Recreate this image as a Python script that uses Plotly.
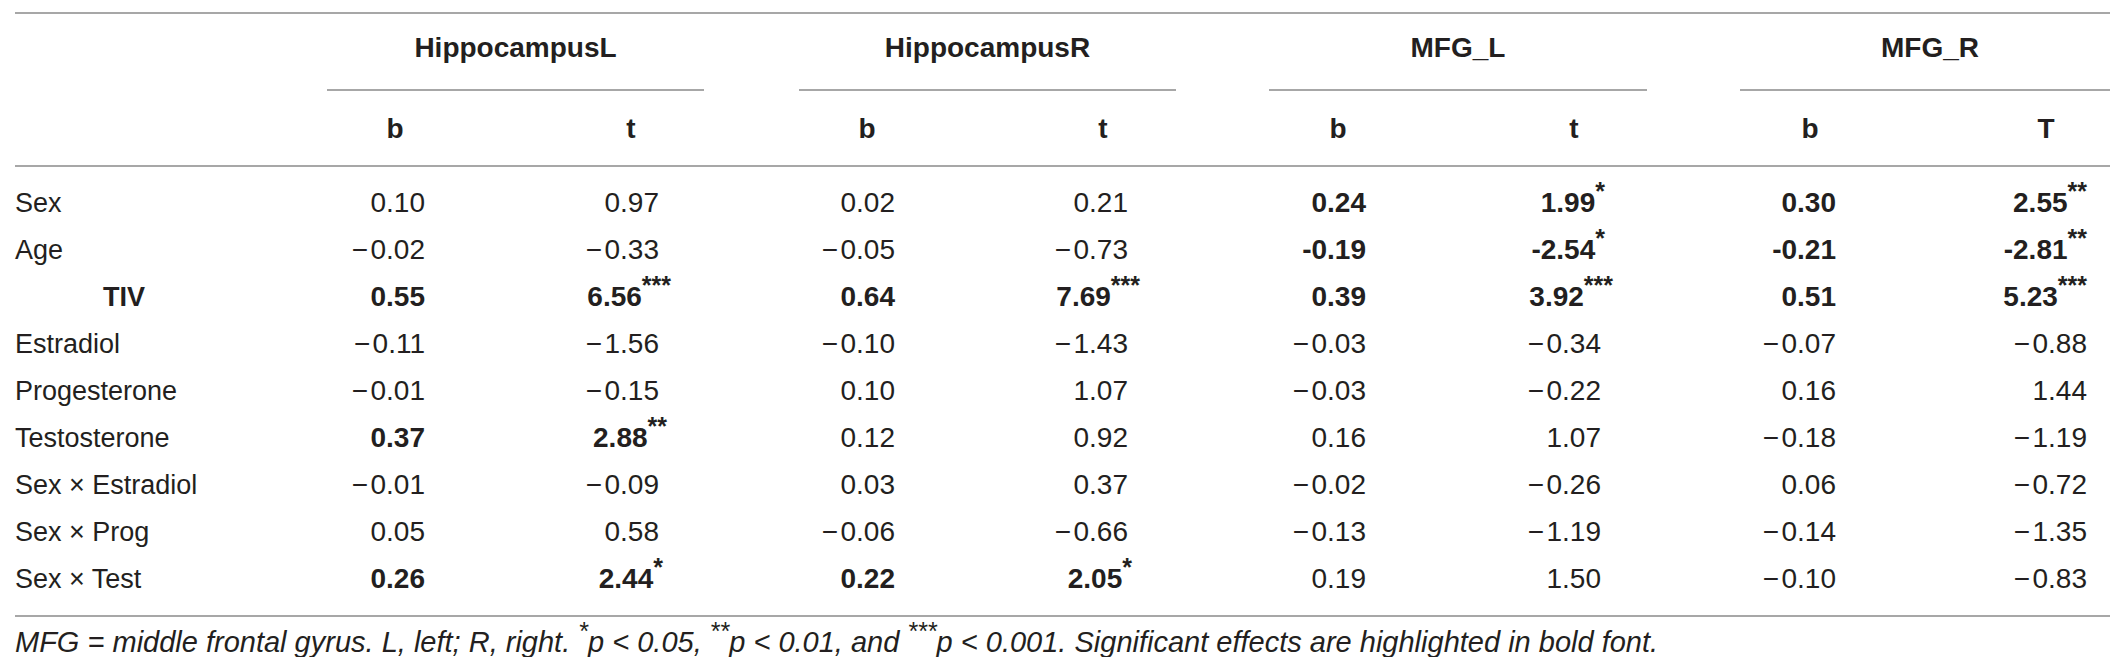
import plotly.graph_objects as go

# table content
row_labels = ["Sex", "Age", "TIV", "Estradiol", "Progesterone", "Testosterone",
              "Sex × Estradiol", "Sex × Prog", "Sex × Test"]
regions = ["HippocampusL", "HippocampusR", "MFG_L", "MFG_R"]
stat_labels = ["b", "t", "b", "t", "b", "t", "b", "T"]

hipl_b = [0.10, -0.02, 0.55, -0.11, -0.01, 0.37, -0.01, 0.05, 0.26]
hipl_t = [0.97, -0.33, 6.56, -1.56, -0.15, 2.88, -0.09, 0.58, 2.44]
hipl_stars = [0, 0, 3, 0, 0, 2, 0, 0, 1]
hipl_bold = [0, 0, 1, 0, 0, 1, 0, 0, 1]

hipr_b = [0.02, -0.05, 0.64, -0.10, 0.10, 0.12, 0.03, -0.06, 0.22]
hipr_t = [0.21, -0.73, 7.69, -1.43, 1.07, 0.92, 0.37, -0.66, 2.05]
hipr_stars = [0, 0, 3, 0, 0, 0, 0, 0, 1]
hipr_bold = [0, 0, 1, 0, 0, 0, 0, 0, 1]

mfgl_b = [0.24, -0.19, 0.39, -0.03, -0.03, 0.16, -0.02, -0.13, 0.19]
mfgl_t = [1.99, -2.54, 3.92, -0.34, -0.22, 1.07, -0.26, -1.19, 1.50]
mfgl_stars = [1, 1, 3, 0, 0, 0, 0, 0, 0]
mfgl_bold = [1, 1, 1, 0, 0, 0, 0, 0, 0]

mfgr_b = [0.30, -0.21, 0.51, -0.07, 0.16, -0.18, 0.06, -0.14, -0.10]
mfgr_t = [2.55, -2.81, 5.23, -0.88, 1.44, -1.19, -0.72, -1.35, -0.83]
mfgr_stars = [2, 2, 3, 0, 0, 0, 0, 0, 0]
mfgr_bold = [1, 1, 1, 0, 0, 0, 0, 0, 0]

STAR = "<sup><span style='font-size:25px'>{}</span></sup>"
footnote = ("<i>MFG = middle frontal gyrus. L, left; R, right. " + STAR.format("*") +
            "p &lt; 0.05, " + STAR.format("**") + "p &lt; 0.01, and " +
            STAR.format("***") + "p &lt; 0.001. "
            "Significant effects are highlighted in bold font.</i>")

# layout (pixels)
W, H = 2118, 657
FONT = "Liberation Sans, Arial, Helvetica, sans-serif"
INK = "#231f20"
RULE = "#8a8a8a"
FS = 28
col_x = [387, 623, 859, 1095, 1330, 1566, 1802, 2038]
num_right = [417, 651, 887, 1120, 1358, 1593, 1828, 2079]
group_span = [(319, 696), (791, 1168), (1261, 1639), (1732, 2112)]
row_y0, row_dy = 197, 47
row_y = [row_y0 + i * row_dy for i in range(len(row_labels))]


def cell(v, bold, stars):
    s = f"{abs(v):.2f}"
    if v < 0:
        s = ("-" if bold else "\u2212\u200a") + s
    if stars:
        s += STAR.format("*" * stars)
    return f"<b>{s}</b>" if bold else s


columns = [
    (hipl_b, [0] * 9, hipl_bold), (hipl_t, hipl_stars, hipl_bold),
    (hipr_b, [0] * 9, hipr_bold), (hipr_t, hipr_stars, hipr_bold),
    (mfgl_b, [0] * 9, mfgl_bold), (mfgl_t, mfgl_stars, mfgl_bold),
    (mfgr_b, [0] * 9, mfgr_bold), (mfgr_t, mfgr_stars, mfgr_bold),
]

fig = go.Figure()

# row labels (TIV is bold and centred in the label column)
lab_x = [116 if r == "TIV" else 7 for r in row_labels]
lab_txt = ["<b>TIV</b>" if r == "TIV" else r for r in row_labels]
lab_pos = ["middle center" if r == "TIV" else "middle right" for r in row_labels]
fig.add_trace(go.Scatter(x=lab_x, y=row_y, text=lab_txt, mode="text",
                         textposition=lab_pos,
                         textfont=dict(family=FONT, size=27, color=INK)))

# numeric cells
for j, (vals, stars, bold) in enumerate(columns):
    if j == 7:
        xs = [num_right[j]] * len(vals)
    else:
        xs = [num_right[j] + 4 * n for n in stars]
    txt = [cell(v, b, n) for v, b, n in zip(vals, bold, stars)]
    fig.add_trace(go.Scatter(x=xs, y=row_y, text=txt, mode="text",
                             textposition="middle left",
                             textfont=dict(family=FONT, size=FS, color=INK)))

# header rows
fig.add_trace(go.Scatter(x=[(a + b) / 2 for a, b in group_span], y=[42] * 4,
                         text=[f"<b>{r}</b>" for r in regions], mode="text",
                         textposition="middle center",
                         textfont=dict(family=FONT, size=FS, color=INK)))
fig.add_trace(go.Scatter(x=col_x, y=[123] * 8,
                         text=[f"<b>{s}</b>" for s in stat_labels], mode="text",
                         textposition="middle center",
                         textfont=dict(family=FONT, size=FS, color=INK)))

# footnote
fig.add_trace(go.Scatter(x=[7], y=[637], text=[footnote], mode="text",
                         textposition="middle right",
                         textfont=dict(family=FONT, size=29, color=INK)))

# rules
for y in (5, 158, 608):
    fig.add_shape(type="line", x0=7, x1=2111, y0=y, y1=y,
                  line=dict(color=RULE, width=1.5))
for a, b in group_span:
    fig.add_shape(type="line", x0=a, x1=b, y0=82, y1=82,
                  line=dict(color=RULE, width=1.5))

fig.update_layout(
    width=W, height=H, margin=dict(l=0, r=0, t=0, b=0),
    paper_bgcolor="white", plot_bgcolor="white", showlegend=False,
    xaxis=dict(range=[0, W], visible=False, fixedrange=True),
    yaxis=dict(range=[H, 0], visible=False, fixedrange=True),
)

fig.write_html("out.html")
